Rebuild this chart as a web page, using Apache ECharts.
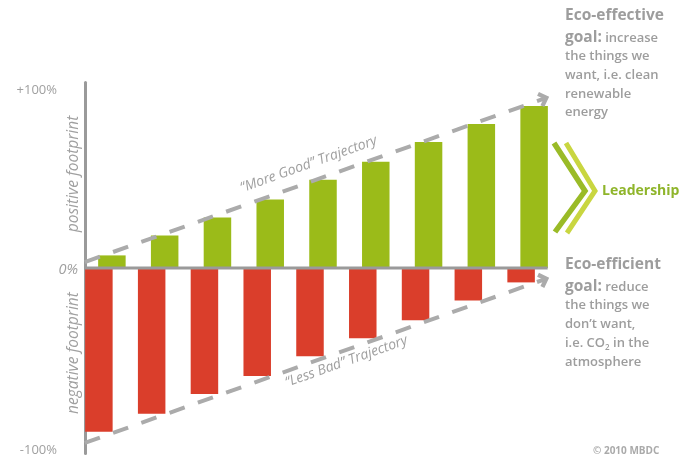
<!DOCTYPE html>
<html>
<head>
<meta charset="utf-8">
<script src="https://cdn.jsdelivr.net/npm/echarts@6/dist/echarts.min.js"></script>
<style>
  html, body { margin: 0; padding: 0; background: #ffffff; }
  #chart { width: 681px; height: 459px; }
</style>
</head>
<body>
<div id="chart"></div>
<script>
// Nine stages of improvement
const stages = ['1', '2', '3', '4', '5', '6', '7', '8', '9'];
// Footprint per stage, in % (+100 = fully positive, -100 = fully negative)
const positiveFootprint = [7, 18, 28, 38, 49, 59, 70, 80, 90];
const negativeFootprint = [-91, -81, -70, -60, -49, -39, -29, -18, -8];
// Y axis tick values and their labels
const yTickValues = [-100, 0, 100];
const yTickLabels = ['-100%', '0%', '+100%'];
// Trajectory endpoints as [stage position, footprint %]
const moreGoodTrajectory = [[0.11, 3.3], [8.81, 94.1]];
const lessBadTrajectory = [[0.11, -97.2], [8.81, -6.4]];
const baseline = [[0.11, 0], [8.88, 0]];

const GREY = '#9d9d9d';
const FONT = '"Open Sans", "Noto Sans", sans-serif';

const chart = echarts.init(document.getElementById('chart'), null, { renderer: 'canvas' });

// Chevron pointing "up"; markLine rotates it along the line direction
const chevron = 'path://M0,8 L8,0 L16,8 L13,11 L8,6 L3,11 Z';

function sideText(lines, x, firstY, secondY, step) {
  return lines.map((t, i) => ({
    type: 'text',
    x: x,
    y: i === 0 ? firstY : secondY + (i - 1) * step,
    silent: true,
    style: {
      text: t,
      verticalAlign: 'middle',
      align: 'left',
      rich: {
        h: { fontFamily: FONT, fontSize: 15.5, fontWeight: 'bold', fill: GREY },
        b: { fontFamily: FONT, fontSize: 13, fontWeight: 600, fill: GREY },
        s: { fontFamily: FONT, fontSize: 8, fontWeight: 600, fill: GREY, padding: [9, 0, 0, 0] }
      }
    }
  }));
}

const option = {
  animation: false,
  backgroundColor: '#ffffff',
  grid: { left: 79, right: 127, top: 82.6, bottom: 5.6, containLabel: false },
  xAxis: [
    { type: 'category', data: stages, show: false },
    { type: 'value', min: 0, max: 9, show: false }
  ],
  yAxis: {
    type: 'value',
    min: -103,
    max: 103,
    offset: -6,
    axisLine: { show: true, onZero: false, lineStyle: { color: '#9a9a9a', width: 3 } },
    axisTick: { show: false },
    splitLine: { show: false },
    axisLabel: {
      customValues: yTickValues,
      margin: 7,
      formatter: function (v) {
        const i = yTickValues.indexOf(v);
        if (i < 0) return '';
        return v === 0 ? '{z|' + yTickLabels[i] + '}' : '{e|' + yTickLabels[i] + '}';
      },
      rich: {
        e: { fontFamily: FONT, fontSize: 13, color: '#a0a0a0', padding: [4, 21, 0, 0] },
        z: { fontFamily: FONT, fontSize: 14.5, fontStyle: 'italic', color: '#a0a0a0', padding: [4, 0, 0, 0] }
      }
    }
  },
  series: [
    {
      name: 'negative footprint',
      type: 'bar',
      xAxisIndex: 0,
      data: negativeFootprint,
      barWidth: 27.5,
      barGap: '-52.7%',
      itemStyle: { color: '#da3e2b' },
      silent: true
    },
    {
      name: 'positive footprint',
      type: 'bar',
      xAxisIndex: 0,
      data: positiveFootprint,
      barWidth: 27.5,
      barGap: '-52.7%',
      itemStyle: { color: '#9bbb19' },
      silent: true
    },
    {
      name: 'baseline',
      type: 'line',
      xAxisIndex: 1,
      data: baseline,
      symbol: 'none',
      z: 5,
      silent: true,
      lineStyle: { color: '#9a9a9a', width: 3 }
    },
    {
      name: 'trajectories',
      type: 'line',
      xAxisIndex: 1,
      data: [],
      z: 4,
      markLine: {
        silent: true,
        symbol: ['none', chevron],
        symbolSize: [16, 11],
        lineStyle: { type: [16, 14], width: 4, color: '#ababab', cap: 'butt' },
        label: {
          show: true,
          fontFamily: FONT,
          fontSize: 14,
          fontStyle: 'italic',
          color: '#a0a0a0'
        },
        data: [
          [
            {
              coord: moreGoodTrajectory[0],
              label: { formatter: '\u201cMore Good\u201d Trajectory', position: 'insideMiddleTop', distance: 10 }
            },
            { coord: moreGoodTrajectory[1] }
          ],
          [
            {
              coord: lessBadTrajectory[0],
              label: { formatter: '\u201cLess Bad\u201d Trajectory', position: 'insideMiddleBottom', distance: 4, padding: [0, 0, 0, 60] }
            },
            { coord: lessBadTrajectory[1] }
          ]
        ]
      }
    }
  ],
  graphic: [
    {
      type: 'text', x: 74, y: 174, rotation: Math.PI / 2, silent: true,
      style: { text: 'positive footprint', fontFamily: FONT, fontSize: 15.5, fontStyle: 'italic', fill: '#a0a0a0', align: 'center', verticalAlign: 'middle' }
    },
    {
      type: 'text', x: 74, y: 353, rotation: Math.PI / 2, silent: true,
      style: { text: 'negative footprint', fontFamily: FONT, fontSize: 15.5, fontStyle: 'italic', fill: '#a0a0a0', align: 'center', verticalAlign: 'middle' }
    },
    ...sideText([
      '{h|Eco-effective}',
      '{h|goal:} {b|increase}',
      '{b|the things we}',
      '{b|want, i.e. clean}',
      '{b|renewable}',
      '{b|energy}'
    ], 565, 16, 38, 18.6),
    ...sideText([
      '{h|Eco-efficient}',
      '{h|goal:} {b|reduce}',
      '{b|the things we}',
      '{b|don\u2019t want,}',
      '{b|i.e. CO}{s|2}{b| in the}',
      '{b|atmosphere}'
    ], 565, 265, 287, 18.75),
    {
      type: 'polyline', silent: true,
      shape: { points: [[554, 143], [585, 191], [555, 232]] },
      style: { stroke: '#9abb27', lineWidth: 5.5, fill: null }
    },
    {
      type: 'polyline', silent: true,
      shape: { points: [[566, 143], [595, 191], [567, 233]] },
      style: { stroke: '#c9d640', lineWidth: 5, fill: null }
    },
    {
      type: 'text', x: 602, y: 191, silent: true,
      style: { text: 'Leadership', fontFamily: FONT, fontSize: 14, fontWeight: 'bold', fill: '#8fb52b', verticalAlign: 'middle' }
    },
    {
      type: 'text', x: 593, y: 451, silent: true,
      style: { text: '\u00a9 2010 MBDC', fontFamily: FONT, fontSize: 10, fontWeight: 'bold', fill: '#aaaaaa', verticalAlign: 'middle' }
    }
  ]
};

chart.setOption(option);
</script>
</body>
</html>
